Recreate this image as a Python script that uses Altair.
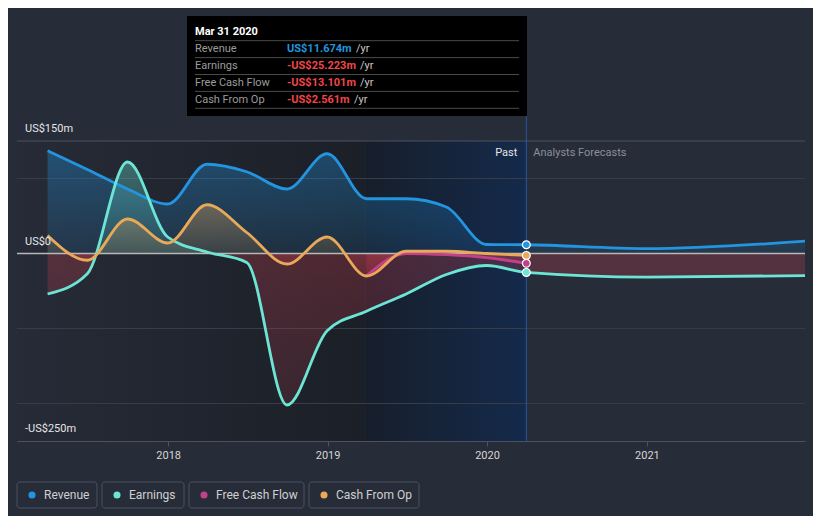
import altair as alt
import pandas as pd

# ---------------- data ----------------
past_dates = ["2017-03-31", "2017-06-30", "2017-09-30", "2017-12-31", "2018-03-31",
              "2018-06-30", "2018-09-30", "2018-12-31", "2019-03-31", "2019-06-30",
              "2019-09-30", "2019-12-31", "2020-03-31"]
forecast_dates = ["2020-12-31", "2021-12-31"]

revenue_past = [137, 112, 86, 66, 119, 109, 86, 133, 73, 73, 62, 12, 11.674]
revenue_forecast = [6.5, 16.5]
earnings_past = [-54, -27, 122, 22, 2, -12, -202, -103, -77, -54, -28, -16, -25.223]
earnings_forecast = [-31.5, -29.5]
fcf_dates = ["2019-03-31", "2019-06-30", "2019-09-30", "2019-12-31", "2020-03-31"]
fcf_past = [-30, 0, -1.5, -5.5, -13.101]
cfo_past = [24, -9, 46, 14, 65, 28, -14, 22, -30, 3, 3, 0, -2.561]

series_names = ["Revenue", "Earnings", "Free Cash Flow", "Cash From Op"]
series_colors = ["#2394df", "#6ce5d4", "#c2418a", "#e9a958"]
series_rgb = [(35, 148, 223), (108, 229, 212), (194, 65, 138), (233, 169, 88)]
neg_rgb = (226, 66, 82)

tip_title = "Mar 31 2020"
tip_values = ["US$11.674m", "-US$25.223m", "-US$13.101m", "-US$2.561m"]
tip_value_colors = ["#2394df", "#f0464a", "#f0464a", "#f0464a"]

y_label_values = [150, 0, -250]
y_label_texts = ["US$150m", "US$0", "-US$250m"]
grid_values = [150, 100, -100, -200]
year_ticks = [2018, 2019, 2020, 2021]

FONT = "Roboto"
BG = "#262c38"


def ts(d):
    return d + "T00:00:00"


xscale = alt.Scale(domain=[alt.DateTime(year=2017, month=1, date=20),
                           alt.DateTime(year=2021, month=12, date=29)])
yscale = alt.Scale(domain=[-250, 150], nice=False, zero=False)
xaxis = alt.Axis(values=[alt.DateTime(year=y, month=1, date=1) for y in year_ticks],
                 format="%Y", grid=False, title=None, labelColor="#d6d6d6",
                 labelFontSize=11, labelFont=FONT, domainColor="#4b515e",
                 tickColor="#4b515e", tickSize=5, labelPadding=3)

X = lambda f="date": alt.X(f + ":T", scale=xscale, axis=xaxis)
Y = lambda f="v": alt.Y(f + ":Q", scale=yscale, axis=None)

one = pd.DataFrame({"k": [0]})

dfs = [
    pd.DataFrame({"date": [ts(d) for d in past_dates + forecast_dates],
                  "v": revenue_past + revenue_forecast}),
    pd.DataFrame({"date": [ts(d) for d in past_dates + forecast_dates],
                  "v": earnings_past + earnings_forecast}),
    pd.DataFrame({"date": [ts(d) for d in fcf_dates], "v": fcf_past}),
    pd.DataFrame({"date": [ts(d) for d in past_dates], "v": cfo_past}),
]


def rgba(c, a):
    return f"rgba({c[0]},{c[1]},{c[2]},{a})"


def area_gradient(vals, rgb):
    vmax = max(max(vals), 0)
    vmin = min(min(vals), 0)
    z = vmax / (vmax - vmin)
    stops = []
    if vmax > 0:
        stops += [alt.GradientStop(offset=0, color=rgba(rgb, 0.36)),
                  alt.GradientStop(offset=z, color=rgba(rgb, 0.12))]
    if vmin < 0:
        stops += [alt.GradientStop(offset=z, color=rgba(neg_rgb, 0.25)),
                  alt.GradientStop(offset=1, color=rgba(neg_rgb, 0.14))]
    return alt.Gradient(gradient="linear", stops=stops, x1=0, x2=0, y1=0, y2=1)


layers = []

# background bands
bands = pd.DataFrame({"date": [ts("2017-01-20")], "date2": [ts("2019-03-29")]})
layers.append(alt.Chart(bands).mark_rect(
    color=alt.Gradient(gradient="linear", x1=0, x2=1, y1=0, y2=0,
                       stops=[alt.GradientStop(offset=0, color="#262b37"),
                              alt.GradientStop(offset=1, color="#1b1f27")])
).encode(x=X(), x2="date2:T", y=alt.value(0), y2=alt.value(300)))
band2 = pd.DataFrame({"date": [ts("2019-03-29")], "date2": [ts("2020-03-31")]})
layers.append(alt.Chart(band2).mark_rect(
    color=alt.Gradient(gradient="linear", x1=0, x2=1, y1=0, y2=0,
                       stops=[alt.GradientStop(offset=0, color="#171e2b"),
                              alt.GradientStop(offset=1, color="#142a4b")])
).encode(x=X(), x2="date2:T", y=alt.value(0), y2=alt.value(300)))

# gridlines
grid_df = pd.DataFrame({"v": grid_values})
layers.append(alt.Chart(grid_df).mark_rule(strokeWidth=1).encode(
    x=alt.value(0), x2=alt.value(788), y=Y(),
    color=alt.condition(alt.datum.v == 150, alt.value("#4b515e"), alt.value("#363c48"))))

# areas
for df, rgb in zip(dfs, series_rgb):
    layers.append(alt.Chart(df).mark_area(
        interpolate="monotone", clip=True, color=area_gradient(list(df["v"]), rgb)
    ).encode(x=X(), y=Y(), y2=alt.datum(0)))

# zero line
layers.append(alt.Chart(pd.DataFrame({"v": [0]})).mark_rule(
    color="#b8b8b8", strokeWidth=1.6).encode(x=alt.value(0), x2=alt.value(788), y=Y()))

# lines
for df, col in zip(dfs, series_colors):
    layers.append(alt.Chart(df).mark_line(
        interpolate="monotone", clip=True, strokeWidth=2.8, color=col
    ).encode(x=X(), y=Y()))

# now rule
now_df = pd.DataFrame({"date": [ts("2020-03-31")]})
layers.append(alt.Chart(now_df).mark_rule(color="#2457a3", strokeWidth=1).encode(
    x=X(), y=alt.value(-25), y2=alt.value(300)))

# points at now
pts = pd.DataFrame({"date": [ts("2020-03-31")] * 4,
                    "v": [revenue_past[-1], earnings_past[-1], fcf_past[-1], cfo_past[-1]],
                    "c": series_colors})
layers.append(alt.Chart(pts).mark_point(filled=True, size=62, stroke="#ffffff",
                                         strokeWidth=1.2, opacity=1).encode(
    x=X(), y=Y(), fill=alt.Fill("c:N", scale=None)))

# Past / Analysts Forecasts
layers.append(alt.Chart(now_df).mark_text(text="Past", align="right", dx=-9, baseline="middle",
                                          font=FONT, fontSize=11, color="#e6e6e6").encode(
    x=X(), y=alt.value(12)))
layers.append(alt.Chart(now_df).mark_text(text="Analysts Forecasts", align="left", dx=7,
                                          baseline="middle", font=FONT, fontSize=11,
                                          color="#8b909a").encode(x=X(), y=alt.value(12)))

# y labels
ylab = pd.DataFrame({"v": y_label_values, "lab": y_label_texts})
layers.append(alt.Chart(ylab).mark_text(align="left", baseline="middle", dy=-12, font=FONT,
                                        fontSize=11, color="#e6e6e6").encode(
    x=alt.value(8), y=Y(), text="lab:N"))

# tooltip box
layers.append(alt.Chart(one).mark_rect(color="#000000").encode(
    x=alt.value(170), x2=alt.value(510), y=alt.value(-125), y2=alt.value(-25)))
layers.append(alt.Chart(one).mark_text(text=tip_title, align="left", baseline="middle",
                                       font=FONT, fontSize=11, fontWeight="bold",
                                       color="#ffffff").encode(x=alt.value(178), y=alt.value(-109.5)))
for i in range(5):
    layers.append(alt.Chart(one).mark_rule(color="#4a4a4a", strokeWidth=1).encode(
        x=alt.value(178), x2=alt.value(502), y=alt.value(-100.3 + i * 16.9)))
yr_x = [339, 343, 343, 337]
for i in range(4):
    yy = -92.3 + i * 17
    layers.append(alt.Chart(one).mark_text(text=series_names[i], align="left", baseline="middle",
                                           font=FONT, fontSize=11, color="#9c9c9c").encode(
        x=alt.value(178), y=alt.value(yy)))
    layers.append(alt.Chart(one).mark_text(text=tip_values[i], align="left", baseline="middle",
                                           font=FONT, fontSize=11, fontWeight="bold",
                                           color=tip_value_colors[i]).encode(
        x=alt.value(270), y=alt.value(yy)))
    layers.append(alt.Chart(one).mark_text(text="/yr", align="left", baseline="middle",
                                           font=FONT, fontSize=11, color="#c8c8c8").encode(
        x=alt.value(yr_x[i]), y=alt.value(yy)))

# legend
box_x = [(0, 80), (85, 167), (172, 287), (292, 402)]
for i in range(4):
    x0, x1 = box_x[i]
    layers.append(alt.Chart(one).mark_rect(fill=BG, stroke="#4b515e", strokeWidth=1,
                                           cornerRadius=3).encode(
        x=alt.value(x0), x2=alt.value(x1), y=alt.value(341), y2=alt.value(367)))
    layers.append(alt.Chart(one).mark_point(filled=True, size=50, color=series_colors[i],
                                            opacity=1).encode(
        x=alt.value(x0 + 15), y=alt.value(354)))
    layers.append(alt.Chart(one).mark_text(text=series_names[i], align="left", baseline="middle",
                                           font=FONT, fontSize=12, color="#d0d0d0").encode(
        x=alt.value(x0 + 27), y=alt.value(354)))

chart = alt.layer(*layers).properties(
    width=788, height=300,
    padding={"left": 9, "top": 133, "right": 8, "bottom": 75},
    autosize=alt.AutoSizeParams(type="none"),
    background=BG,
).configure_view(stroke=None)

chart.save("out.html", embed_options={"renderer": "svg", "actions": False})
